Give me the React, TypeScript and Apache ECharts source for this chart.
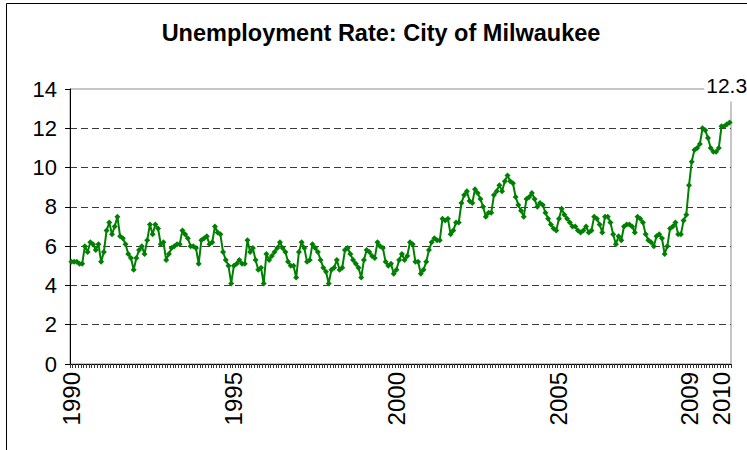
import React, { useEffect, useRef } from "react";
import * as echarts from "echarts";

// Monthly unemployment rate, City of Milwaukee (%), Jan 1990 onward
const rates1990 = [5.2, 5.2, 5.2, 5.1, 5.1, 6.0, 5.7, 6.2, 6.1, 5.8, 6.1, 5.2];
const rates1991 = [5.7, 6.8, 7.2, 6.6, 7.0, 7.5, 6.5, 6.4, 6.1, 5.6, 5.4, 4.8];
const rates1992 = [5.4, 5.8, 6.0, 5.6, 6.3, 7.1, 6.6, 7.1, 6.9, 6.1, 6.2, 5.3];
const rates1993 = [5.6, 5.9, 6.0, 6.1, 6.1, 6.8, 6.6, 6.4, 6.0, 6.0, 5.9, 5.1];
const rates1994 = [6.3, 6.4, 6.5, 6.1, 6.2, 7.0, 6.7, 6.6, 5.7, 5.3, 5.0, 4.1];
const rates1995 = [5.0, 5.1, 5.3, 5.1, 5.1, 6.3, 5.7, 5.9, 5.3, 4.8, 4.9, 4.1];
const rates1996 = [5.6, 5.3, 5.5, 5.7, 5.9, 6.2, 5.9, 5.7, 5.2, 5.0, 5.0, 4.4];
const rates1997 = [5.7, 6.2, 5.9, 5.2, 5.3, 6.1, 5.9, 5.7, 5.3, 4.9, 4.7, 4.1];
const rates1998 = [4.8, 4.9, 5.3, 4.8, 4.9, 5.8, 5.9, 5.6, 5.3, 5.1, 4.9, 4.4];
const rates1999 = [5.3, 5.8, 5.7, 5.5, 5.4, 6.2, 6.0, 5.9, 5.2, 5.0, 5.1, 4.6];
const rates2000 = [4.8, 5.3, 5.6, 5.3, 5.5, 6.2, 6.1, 5.2, 5.2, 4.6, 4.8, 5.2];
const rates2001 = [5.8, 6.2, 6.4, 6.3, 6.3, 7.4, 7.3, 7.4, 6.6, 6.8, 7.2, 7.2];
const rates2002 = [8.2, 8.6, 8.8, 8.3, 8.2, 8.9, 8.7, 8.4, 8.0, 7.5, 7.7, 7.7];
const rates2003 = [8.6, 8.8, 9.1, 8.8, 9.3, 9.6, 9.3, 9.2, 8.5, 8.1, 7.8, 7.5];
const rates2004 = [8.4, 8.5, 8.7, 8.4, 8.0, 8.2, 8.1, 7.7, 7.4, 7.1, 6.9, 6.8];
const rates2005 = [7.4, 7.9, 7.6, 7.4, 7.2, 7.0, 7.0, 6.8, 6.7, 6.8, 7.0, 6.7];
const rates2006 = [6.8, 7.5, 7.4, 7.1, 6.7, 7.5, 7.5, 7.2, 6.6, 6.1, 6.5, 6.3];
const rates2007 = [7.0, 7.1, 7.1, 7.0, 6.7, 7.5, 7.4, 7.2, 6.6, 6.3, 6.2, 6.0];
const rates2008 = [6.5, 6.6, 6.4, 5.6, 6.0, 6.9, 7.0, 7.2, 6.6, 6.6, 7.3, 7.6];
const rates2009 = [9.1, 10.3, 10.9, 11.0, 11.2, 12.0, 11.9, 11.5, 11.0, 10.8, 10.8, 11.0];
const rates2010 = [12.1, 12.1, 12.2, 12.3];

const START_YEAR = 1990;
const tickLabelYears = ["1990", "1995", "2000", "2005", "2009", "2010"];
const yTicks = { min: 0, max: 14, interval: 2 };
const titleText = "Unemployment Rate: City of Milwaukee";

const rates = [
  ...rates1990, ...rates1991, ...rates1992, ...rates1993, ...rates1994,
  ...rates1995, ...rates1996, ...rates1997, ...rates1998, ...rates1999,
  ...rates2000, ...rates2001, ...rates2002, ...rates2003, ...rates2004,
  ...rates2005, ...rates2006, ...rates2007, ...rates2008, ...rates2009,
  ...rates2010,
];

const categories = rates.map((_, i) => {
  const y = START_YEAR + Math.floor(i / 12);
  const m = (i % 12) + 1;
  return `${y}-${m < 10 ? "0" + m : m}`;
});

const FONT = "'Liberation Sans', Arial, Helvetica, sans-serif";

export default function App() {
  const ref = useRef<HTMLDivElement>(null);

  useEffect(() => {
    if (!ref.current) return;
    const chart = echarts.init(ref.current, null, { renderer: "svg" });
    const last = rates.length - 1;

    chart.setOption({
      animation: false,
      backgroundColor: "#ffffff",
      textStyle: { fontFamily: FONT },
      title: {
        text: titleText,
        left: 376,
        top: 16,
        textAlign: "center",
        textStyle: {
          fontFamily: FONT,
          fontSize: 23.5,
          fontWeight: "bold",
          color: "#000",
        },
      },
      graphic: [
        {
          type: "rect",
          silent: true,
          z: -10,
          shape: { x: 6.5, y: 3.5, width: 800, height: 500 },
          style: { fill: "none", stroke: "#000", lineWidth: 1 },
        },
      ],
      grid: {
        show: true,
        left: 70,
        top: 89,
        width: 661,
        height: 275,
        borderColor: "#8c8c8c",
        borderWidth: 1,
        backgroundColor: "transparent",
      },
      xAxis: {
        type: "category",
        data: categories,
        boundaryGap: true,
        axisLine: { show: true, lineStyle: { color: "#000", width: 1 } },
        axisTick: {
          show: true,
          interval: 0,
          length: 4,
          inside: false,
          lineStyle: { color: "#333", width: 1 },
        },
        axisLabel: {
          interval: (idx: number, value: string) =>
            value.endsWith("-01") && tickLabelYears.includes(value.slice(0, 4)),
          formatter: (value: string) => value.slice(0, 4),
          rotate: 90,
          margin: 8,
          fontSize: 24,
          fontFamily: FONT,
          color: "#000",
        },
        splitLine: { show: false },
      },
      yAxis: {
        type: "value",
        min: yTicks.min,
        max: yTicks.max,
        interval: yTicks.interval,
        axisLine: { show: true, lineStyle: { color: "#000", width: 1 } },
        axisTick: { show: true, length: 5, lineStyle: { color: "#000" } },
        axisLabel: {
          margin: 13,
          fontSize: 22,
          fontFamily: FONT,
          color: "#000",
        },
        splitLine: {
          show: true,
          showMinLine: false,
          showMaxLine: false,
          lineStyle: { color: "#3a3a3a", width: 1.2, type: [7, 4] },
        },
      },
      series: [
        {
          type: "line",
          data: rates.map((v, i) =>
            i === last
              ? {
                  value: v,
                  label: {
                    show: true,
                    position: "top",
                    distance: 18,
                    offset: [-3, 0],
                    formatter: (p: any) => String(p.value),
                    fontSize: 21,
                    fontFamily: FONT,
                    color: "#000",
                    backgroundColor: "#fff",
                    padding: [4, 2, 5, 2],
                  },
                }
              : v
          ),
          showAllSymbol: true,
          symbol: "diamond",
          symbolSize: 6,
          lineStyle: { color: "#008000", width: 2 },
          itemStyle: { color: "#008000" },
          z: 3,
        },
      ],
    });

    return () => chart.dispose();
  }, []);

  return (
    <div
      ref={ref}
      style={{ position: "absolute", left: 0, top: 0, width: 747, height: 450 }}
    />
  );
}
